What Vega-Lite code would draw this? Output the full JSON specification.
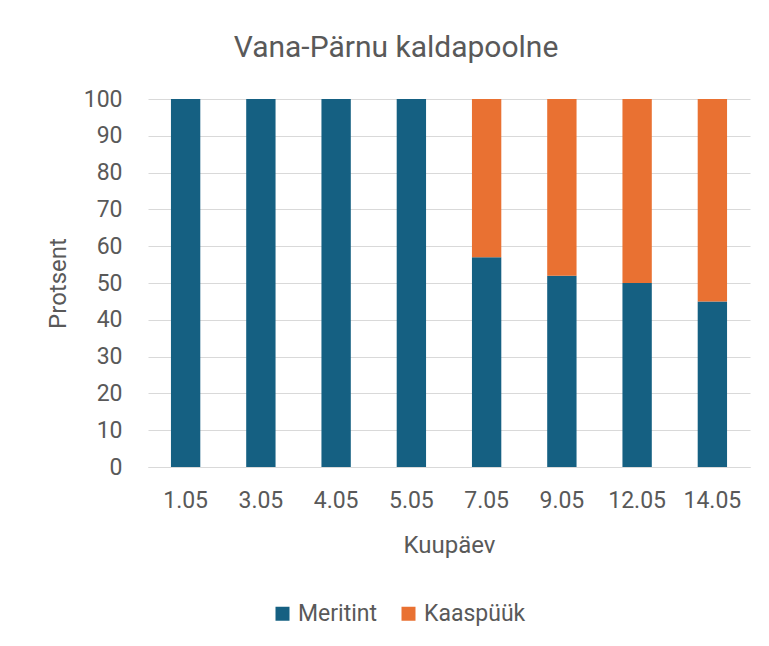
{
  "$schema": "https://vega.github.io/schema/vega-lite/v6.json",
  "width": 602,
  "height": 368,
  "autosize": {"type": "none"},
  "padding": {"left": 148, "top": 99, "right": 19, "bottom": 179},
  "background": "white",
  "title": {
    "text": "Vana-Pärnu kaldapoolne",
    "anchor": "middle",
    "dx": -53,
    "offset": 25,
    "fontSize": 30,
    "font": "Roboto",
    "fontWeight": "normal",
    "color": "#595959"
  },
  "data": {
    "values": [
      {"kuupaev": "1.05", "liik": "Meritint", "protsent": 100, "jrk": 1},
      {"kuupaev": "3.05", "liik": "Meritint", "protsent": 100, "jrk": 1},
      {"kuupaev": "4.05", "liik": "Meritint", "protsent": 100, "jrk": 1},
      {"kuupaev": "5.05", "liik": "Meritint", "protsent": 100, "jrk": 1},
      {"kuupaev": "7.05", "liik": "Meritint", "protsent": 57, "jrk": 1},
      {"kuupaev": "9.05", "liik": "Meritint", "protsent": 52, "jrk": 1},
      {"kuupaev": "12.05", "liik": "Meritint", "protsent": 50, "jrk": 1},
      {"kuupaev": "14.05", "liik": "Meritint", "protsent": 45, "jrk": 1},
      {"kuupaev": "1.05", "liik": "Kaaspüük", "protsent": 0, "jrk": 2},
      {"kuupaev": "3.05", "liik": "Kaaspüük", "protsent": 0, "jrk": 2},
      {"kuupaev": "4.05", "liik": "Kaaspüük", "protsent": 0, "jrk": 2},
      {"kuupaev": "5.05", "liik": "Kaaspüük", "protsent": 0, "jrk": 2},
      {"kuupaev": "7.05", "liik": "Kaaspüük", "protsent": 43, "jrk": 2},
      {"kuupaev": "9.05", "liik": "Kaaspüük", "protsent": 48, "jrk": 2},
      {"kuupaev": "12.05", "liik": "Kaaspüük", "protsent": 50, "jrk": 2},
      {"kuupaev": "14.05", "liik": "Kaaspüük", "protsent": 55, "jrk": 2}
    ]
  },
  "mark": {"type": "bar"},
  "encoding": {
    "x": {
      "field": "kuupaev",
      "type": "nominal",
      "sort": ["1.05", "3.05", "4.05", "5.05", "7.05", "9.05", "12.05", "14.05"],
      "scale": {"paddingInner": 0.61, "paddingOuter": 0.305},
      "axis": {
        "title": "Kuupäev",
        "titleFont": "Roboto",
        "titleFontSize": 24,
        "titleFontWeight": "normal",
        "titleColor": "#595959",
        "titlePadding": 21,
        "labelFont": "Roboto",
        "labelFontSize": 23,
        "labelColor": "#595959",
        "labelAngle": 0,
        "labelPadding": 22,
        "ticks": false,
        "domainColor": "#d9d9d9",
        "domainWidth": 1
      }
    },
    "y": {
      "field": "protsent",
      "type": "quantitative",
      "stack": "zero",
      "scale": {"domain": [0, 100]},
      "axis": {
        "title": "Protsent",
        "titleFont": "Roboto",
        "titleFontSize": 24,
        "titleFontWeight": "normal",
        "titleColor": "#595959",
        "titlePadding": 13,
        "labelFont": "Roboto",
        "labelFontSize": 23,
        "labelColor": "#595959",
        "labelPadding": 26,
        "values": [0, 10, 20, 30, 40, 50, 60, 70, 80, 90, 100],
        "ticks": false,
        "domain": false,
        "gridColor": "#d9d9d9",
        "gridWidth": 1
      }
    },
    "color": {
      "field": "liik",
      "type": "nominal",
      "sort": ["Meritint", "Kaaspüük"],
      "scale": {"domain": ["Meritint", "Kaaspüük"], "range": ["#156082", "#E97132"]},
      "legend": {
        "title": null,
        "orient": "none",
        "direction": "horizontal",
        "legendX": 123,
        "legendY": 503,
        "symbolType": "square",
        "symbolSize": 196,
        "symbolStrokeWidth": 0,
        "labelFont": "Roboto",
        "labelFontSize": 23,
        "labelColor": "#595959",
        "columnPadding": 19,
        "labelOffset": 4
      }
    },
    "order": {"field": "jrk", "type": "quantitative"}
  },
  "config": {
    "view": {"stroke": null}
  }
}
